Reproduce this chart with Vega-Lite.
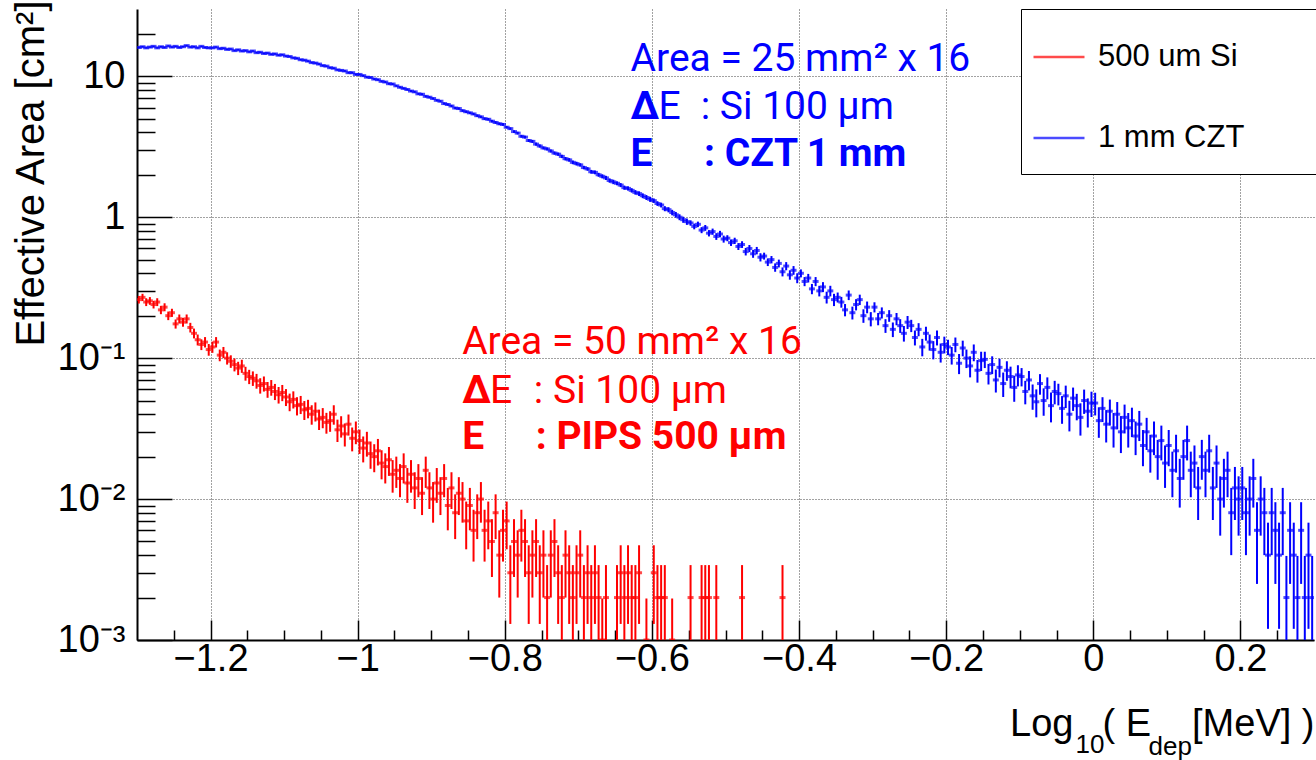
{
"$schema": "https://vega.github.io/schema/vega-lite/v6.json",
"width": 1177, "height": 631,
"autosize": {"type": "none"},
"padding": {"left": 137, "top": 9, "right": 2, "bottom": 120},
"background": "white",
"config": {
 "font": "Liberation Sans",
 "view": {"stroke": null},
 "axis": {"domainColor": "black", "domainWidth": 2, "tickColor": "black", "tickWidth": 1.5, "labelColor": "black", "titleColor": "black", "labelFont": "Liberation Sans", "titleFont": "Liberation Sans", "titleFontWeight": "normal", "gridColor": "#444", "gridDash": [1, 2], "gridWidth": 1, "labelFontSize": 38, "titleFontSize": 38}
},
"datasets": {
"czt": [
{"x":-1.2975,"y":16.0,"e":0.18},{"x":-1.2925,"y":16.2,"e":0.18},{"x":-1.2875,"y":15.9,"e":0.18},{"x":-1.2825,"y":16.1,"e":0.18},{"x":-1.2775,"y":16.3,"e":0.18},{"x":-1.2725,"y":15.9,"e":0.18},{"x":-1.2675,"y":16.2,"e":0.18},{"x":-1.2625,"y":16.0,"e":0.18},{"x":-1.2575,"y":16.4,"e":0.18},{"x":-1.2525,"y":16.1,"e":0.18},
{"x":-1.2475,"y":16.3,"e":0.18},{"x":-1.2425,"y":16.0,"e":0.18},{"x":-1.2375,"y":16.2,"e":0.18},{"x":-1.2325,"y":16.5,"e":0.18},{"x":-1.2275,"y":16.1,"e":0.18},{"x":-1.2225,"y":16.2,"e":0.18},{"x":-1.2175,"y":15.9,"e":0.18},{"x":-1.2125,"y":16.3,"e":0.18},{"x":-1.2075,"y":16.0,"e":0.18},{"x":-1.2025,"y":15.9,"e":0.18},
{"x":-1.1975,"y":15.9,"e":0.175},{"x":-1.1925,"y":16.1,"e":0.175},{"x":-1.1875,"y":15.7,"e":0.175},{"x":-1.1825,"y":15.8,"e":0.175},{"x":-1.1775,"y":15.5,"e":0.175},{"x":-1.1725,"y":15.6,"e":0.175},{"x":-1.1675,"y":15.2,"e":0.175},{"x":-1.1625,"y":15.4,"e":0.175},{"x":-1.1575,"y":15.1,"e":0.175},{"x":-1.1525,"y":15.2,"e":0.175},
{"x":-1.1475,"y":14.9,"e":0.17},{"x":-1.1425,"y":15.1,"e":0.17},{"x":-1.1375,"y":14.7,"e":0.17},{"x":-1.1325,"y":14.8,"e":0.17},{"x":-1.1275,"y":14.5,"e":0.17},{"x":-1.1225,"y":14.6,"e":0.17},{"x":-1.1175,"y":14.3,"e":0.17},{"x":-1.1125,"y":14.4,"e":0.17},{"x":-1.1075,"y":14.1,"e":0.17},{"x":-1.1025,"y":14.2,"e":0.17},
{"x":-1.0975,"y":13.9,"e":0.16},{"x":-1.0925,"y":13.8,"e":0.16},{"x":-1.0875,"y":13.5,"e":0.16},{"x":-1.0825,"y":13.4,"e":0.16},{"x":-1.0775,"y":13.1,"e":0.16},{"x":-1.0725,"y":13.0,"e":0.16},{"x":-1.0675,"y":12.8,"e":0.16},{"x":-1.0625,"y":12.5,"e":0.16},{"x":-1.0575,"y":12.4,"e":0.16},{"x":-1.0525,"y":12.2,"e":0.16},
{"x":-1.0475,"y":11.9,"e":0.15},{"x":-1.0425,"y":11.8,"e":0.15},{"x":-1.0375,"y":11.5,"e":0.15},{"x":-1.0325,"y":11.4,"e":0.15},{"x":-1.0275,"y":11.1,"e":0.15},{"x":-1.0225,"y":11.0,"e":0.15},{"x":-1.0175,"y":10.9,"e":0.15},{"x":-1.0125,"y":10.6,"e":0.15},{"x":-1.0075,"y":10.6,"e":0.15},{"x":-1.0025,"y":10.3,"e":0.15},
{"x":-0.9975,"y":10.3,"e":0.14},{"x":-0.9925,"y":10.1,"e":0.14},{"x":-0.9875,"y":9.85,"e":0.14},{"x":-0.9825,"y":9.8,"e":0.14},{"x":-0.9775,"y":9.55,"e":0.14},{"x":-0.9725,"y":9.45,"e":0.14},{"x":-0.9675,"y":9.2,"e":0.14},{"x":-0.9625,"y":9.1,"e":0.14},{"x":-0.9575,"y":8.85,"e":0.14},{"x":-0.9525,"y":8.8,"e":0.14},
{"x":-0.9475,"y":8.55,"e":0.125},{"x":-0.9425,"y":8.35,"e":0.125},{"x":-0.9375,"y":8.2,"e":0.125},{"x":-0.9325,"y":8.05,"e":0.125},{"x":-0.9275,"y":7.85,"e":0.125},{"x":-0.9225,"y":7.75,"e":0.125},{"x":-0.9175,"y":7.5,"e":0.125},{"x":-0.9125,"y":7.45,"e":0.125},{"x":-0.9075,"y":7.2,"e":0.125},{"x":-0.9025,"y":7.1,"e":0.125},
{"x":-0.8975,"y":6.95,"e":0.11},{"x":-0.8925,"y":6.75,"e":0.11},{"x":-0.8875,"y":6.65,"e":0.11},{"x":-0.8825,"y":6.4,"e":0.11},{"x":-0.8775,"y":6.3,"e":0.11},{"x":-0.8725,"y":6.15,"e":0.11},{"x":-0.8675,"y":5.95,"e":0.11},{"x":-0.8625,"y":5.9,"e":0.11},{"x":-0.8575,"y":5.7,"e":0.11},{"x":-0.8525,"y":5.6,"e":0.11},
{"x":-0.8475,"y":5.5,"e":0.1},{"x":-0.8425,"y":5.4,"e":0.1},{"x":-0.8375,"y":5.25,"e":0.1},{"x":-0.8325,"y":5.15,"e":0.1},{"x":-0.8275,"y":5.0,"e":0.1},{"x":-0.8225,"y":4.95,"e":0.1},{"x":-0.8175,"y":4.8,"e":0.1},{"x":-0.8125,"y":4.7,"e":0.1},{"x":-0.8075,"y":4.6,"e":0.1},{"x":-0.8025,"y":4.55,"e":0.1},
{"x":-0.7975,"y":4.35,"e":0.085},{"x":-0.7925,"y":4.25,"e":0.085},{"x":-0.7875,"y":4.05,"e":0.085},{"x":-0.7825,"y":3.95,"e":0.085},{"x":-0.7775,"y":3.75,"e":0.085},{"x":-0.7725,"y":3.7,"e":0.085},{"x":-0.7675,"y":3.5,"e":0.085},{"x":-0.7625,"y":3.45,"e":0.085},{"x":-0.7575,"y":3.3,"e":0.085},{"x":-0.7525,"y":3.2,"e":0.085},
{"x":-0.7475,"y":3.1,"e":0.075},{"x":-0.7425,"y":3.05,"e":0.075},{"x":-0.7375,"y":2.95,"e":0.075},{"x":-0.7325,"y":2.85,"e":0.075},{"x":-0.7275,"y":2.8,"e":0.075},{"x":-0.7225,"y":2.7,"e":0.075},{"x":-0.7175,"y":2.6,"e":0.075},{"x":-0.7125,"y":2.55,"e":0.075},{"x":-0.7075,"y":2.45,"e":0.075},{"x":-0.7025,"y":2.4,"e":0.075},
{"x":-0.6975,"y":2.35,"e":0.065},{"x":-0.6925,"y":2.25,"e":0.065},{"x":-0.6875,"y":2.2,"e":0.065},{"x":-0.6825,"y":2.1,"e":0.065},{"x":-0.6775,"y":2.08,"e":0.065},{"x":-0.6725,"y":2.0,"e":0.065},{"x":-0.6675,"y":1.95,"e":0.065},{"x":-0.6625,"y":1.9,"e":0.065},{"x":-0.6575,"y":1.82,"e":0.065},{"x":-0.6525,"y":1.78,"e":0.065},
{"x":-0.6475,"y":1.74,"e":0.056},{"x":-0.6425,"y":1.69,"e":0.056},{"x":-0.6375,"y":1.62,"e":0.056},{"x":-0.6325,"y":1.6,"e":0.056},{"x":-0.6275,"y":1.55,"e":0.056},{"x":-0.6225,"y":1.5,"e":0.056},{"x":-0.6175,"y":1.47,"e":0.056},{"x":-0.6125,"y":1.42,"e":0.056},{"x":-0.6075,"y":1.38,"e":0.056},{"x":-0.6025,"y":1.34,"e":0.056},
{"x":-0.5975,"y":1.31,"e":0.048},{"x":-0.5925,"y":1.25,"e":0.048},{"x":-0.5875,"y":1.22,"e":0.048},{"x":-0.5825,"y":1.15,"e":0.048},{"x":-0.5775,"y":1.13,"e":0.048},{"x":-0.5725,"y":1.08,"e":0.048},{"x":-0.5675,"y":1.04,"e":0.048},{"x":-0.5625,"y":1.0,"e":0.048},{"x":-0.5575,"y":0.96,"e":0.048},{"x":-0.5525,"y":0.93,"e":0.048},
{"x":-0.5475,"y":0.91,"e":0.04},{"x":-0.5425,"y":0.86,"e":0.04},{"x":-0.5375,"y":0.89,"e":0.04},{"x":-0.5325,"y":0.81,"e":0.04},{"x":-0.5275,"y":0.84,"e":0.04},{"x":-0.5225,"y":0.77,"e":0.04},{"x":-0.5175,"y":0.79,"e":0.04},{"x":-0.5125,"y":0.73,"e":0.04},{"x":-0.5075,"y":0.76,"e":0.04},{"x":-0.5025,"y":0.70,"e":0.04},
{"x":-0.4975,"y":0.71,"e":0.035},{"x":-0.4925,"y":0.66,"e":0.035},{"x":-0.4875,"y":0.68,"e":0.035},{"x":-0.4825,"y":0.62,"e":0.035},{"x":-0.4775,"y":0.64,"e":0.035},{"x":-0.4725,"y":0.57,"e":0.035},{"x":-0.4675,"y":0.60,"e":0.035},{"x":-0.4625,"y":0.55,"e":0.035},{"x":-0.4575,"y":0.58,"e":0.035},{"x":-0.4525,"y":0.52,"e":0.035},
{"x":-0.4475,"y":0.53,"e":0.03},{"x":-0.4425,"y":0.48,"e":0.03},{"x":-0.4375,"y":0.50,"e":0.03},{"x":-0.4325,"y":0.44,"e":0.03},{"x":-0.4275,"y":0.47,"e":0.03},{"x":-0.4225,"y":0.41,"e":0.03},{"x":-0.4175,"y":0.45,"e":0.03},{"x":-0.4125,"y":0.39,"e":0.03},{"x":-0.4075,"y":0.42,"e":0.03},{"x":-0.4025,"y":0.37,"e":0.03},
{"x":-0.3975,"y":0.40,"e":0.026},{"x":-0.3925,"y":0.35,"e":0.026},{"x":-0.3875,"y":0.37,"e":0.026},{"x":-0.3825,"y":0.31,"e":0.026},{"x":-0.3775,"y":0.35,"e":0.026},{"x":-0.3725,"y":0.30,"e":0.026},{"x":-0.3675,"y":0.32,"e":0.026},{"x":-0.3625,"y":0.27,"e":0.026},{"x":-0.3575,"y":0.30,"e":0.026},{"x":-0.3525,"y":0.26,"e":0.026},
{"x":-0.3475,"y":0.27,"e":0.022},{"x":-0.3425,"y":0.25,"e":0.022},{"x":-0.3375,"y":0.22,"e":0.022},{"x":-0.3325,"y":0.28,"e":0.022},{"x":-0.3275,"y":0.21,"e":0.022},{"x":-0.3225,"y":0.24,"e":0.022},{"x":-0.3175,"y":0.26,"e":0.022},{"x":-0.3125,"y":0.20,"e":0.022},{"x":-0.3075,"y":0.23,"e":0.022},{"x":-0.3025,"y":0.19,"e":0.022},
{"x":-0.2975,"y":0.23,"e":0.019},{"x":-0.2925,"y":0.19,"e":0.019},{"x":-0.2875,"y":0.21,"e":0.019},{"x":-0.2825,"y":0.17,"e":0.019},{"x":-0.2775,"y":0.20,"e":0.019},{"x":-0.2725,"y":0.16,"e":0.019},{"x":-0.2675,"y":0.19,"e":0.019},{"x":-0.2625,"y":0.17,"e":0.019},{"x":-0.2575,"y":0.15,"e":0.019},{"x":-0.2525,"y":0.18,"e":0.019},
{"x":-0.2475,"y":0.17,"e":0.017},{"x":-0.2425,"y":0.14,"e":0.017},{"x":-0.2375,"y":0.16,"e":0.017},{"x":-0.2325,"y":0.12,"e":0.017},{"x":-0.2275,"y":0.15,"e":0.017},{"x":-0.2225,"y":0.13,"e":0.017},{"x":-0.2175,"y":0.115,"e":0.017},{"x":-0.2125,"y":0.14,"e":0.017},{"x":-0.2075,"y":0.11,"e":0.017},{"x":-0.2025,"y":0.125,"e":0.017},
{"x":-0.1975,"y":0.12,"e":0.015},{"x":-0.1925,"y":0.105,"e":0.015},{"x":-0.1875,"y":0.125,"e":0.015},{"x":-0.1825,"y":0.092,"e":0.015},{"x":-0.1775,"y":0.118,"e":0.015},{"x":-0.1725,"y":0.1,"e":0.015},{"x":-0.1675,"y":0.088,"e":0.015},{"x":-0.1625,"y":0.11,"e":0.015},{"x":-0.1575,"y":0.082,"e":0.015},{"x":-0.1525,"y":0.096,"e":0.015},
{"x":-0.1475,"y":0.098,"e":0.013},{"x":-0.1425,"y":0.078,"e":0.013},{"x":-0.1375,"y":0.09,"e":0.013},{"x":-0.1325,"y":0.07,"e":0.013},{"x":-0.1275,"y":0.086,"e":0.013},{"x":-0.1225,"y":0.066,"e":0.013},{"x":-0.1175,"y":0.082,"e":0.013},{"x":-0.1125,"y":0.074,"e":0.013},{"x":-0.1075,"y":0.062,"e":0.013},{"x":-0.1025,"y":0.076,"e":0.013},
{"x":-0.0975,"y":0.074,"e":0.011},{"x":-0.0925,"y":0.058,"e":0.011},{"x":-0.0875,"y":0.07,"e":0.011},{"x":-0.0825,"y":0.054,"e":0.011},{"x":-0.0775,"y":0.049,"e":0.011},{"x":-0.0725,"y":0.066,"e":0.011},{"x":-0.0675,"y":0.05,"e":0.011},{"x":-0.0625,"y":0.062,"e":0.011},{"x":-0.0575,"y":0.046,"e":0.011},{"x":-0.0525,"y":0.058,"e":0.011},
{"x":-0.0475,"y":0.056,"e":0.0098},{"x":-0.0425,"y":0.044,"e":0.0098},{"x":-0.0375,"y":0.054,"e":0.0098},{"x":-0.0325,"y":0.040,"e":0.0098},{"x":-0.0275,"y":0.052,"e":0.0098},{"x":-0.0225,"y":0.046,"e":0.0098},{"x":-0.0175,"y":0.038,"e":0.0098},{"x":-0.0125,"y":0.05,"e":0.0098},{"x":-0.0075,"y":0.042,"e":0.0098},{"x":-0.0025,"y":0.048,"e":0.0098},
{"x":0.0025,"y":0.048,"e":0.0088},{"x":0.0075,"y":0.036,"e":0.0088},{"x":0.0125,"y":0.044,"e":0.0088},{"x":0.0175,"y":0.034,"e":0.0088},{"x":0.0225,"y":0.042,"e":0.0088},{"x":0.0275,"y":0.032,"e":0.0088},{"x":0.0325,"y":0.04,"e":0.0088},{"x":0.0375,"y":0.03,"e":0.0088},{"x":0.0425,"y":0.038,"e":0.0088},{"x":0.0475,"y":0.032,"e":0.0088},
{"x":0.0525,"y":0.036,"e":0.0085},{"x":0.0575,"y":0.028,"e":0.0075},{"x":0.0625,"y":0.034,"e":0.0082},{"x":0.0675,"y":0.024,"e":0.0069},{"x":0.0725,"y":0.03,"e":0.0077},{"x":0.0775,"y":0.022,"e":0.0066},{"x":0.0825,"y":0.028,"e":0.0075},{"x":0.0875,"y":0.02,"e":0.0063},{"x":0.0925,"y":0.026,"e":0.0072},{"x":0.0975,"y":0.018,"e":0.006},
{"x":0.1025,"y":0.024,"e":0.0069},{"x":0.1075,"y":0.016,"e":0.0057},{"x":0.1125,"y":0.022,"e":0.0066},{"x":0.1175,"y":0.014,"e":0.0053},{"x":0.1225,"y":0.02,"e":0.0063},{"x":0.1275,"y":0.026,"e":0.0072},{"x":0.1325,"y":0.016,"e":0.0057},{"x":0.1375,"y":0.018,"e":0.006},{"x":0.1425,"y":0.012,"e":0.0049},{"x":0.1475,"y":0.02,"e":0.0063},
{"x":0.1525,"y":0.016,"e":0.0057},{"x":0.1575,"y":0.022,"e":0.0066},{"x":0.1625,"y":0.012,"e":0.0049},{"x":0.1675,"y":0.018,"e":0.006},{"x":0.1725,"y":0.01,"e":0.0045},{"x":0.1775,"y":0.014,"e":0.0053},{"x":0.1825,"y":0.016,"e":0.0057},{"x":0.1875,"y":0.008,"e":0.004},{"x":0.1925,"y":0.012,"e":0.0049},{"x":0.1975,"y":0.01,"e":0.0045},
{"x":0.2025,"y":0.012,"e":0.0049},{"x":0.2075,"y":0.008,"e":0.004},{"x":0.2125,"y":0.01,"e":0.0045},{"x":0.2175,"y":0.014,"e":0.0053},{"x":0.2225,"y":0.006,"e":0.0035},{"x":0.2275,"y":0.01,"e":0.0045},{"x":0.2325,"y":0.008,"e":0.004},{"x":0.2375,"y":0.004,"e":0.0028},{"x":0.2425,"y":0.008,"e":0.004},{"x":0.2475,"y":0.006,"e":0.0035},
{"x":0.2525,"y":0.004,"e":0.0028},{"x":0.2575,"y":0.008,"e":0.004},{"x":0.2625,"y":0.002,"e":0.00195},{"x":0.2675,"y":0.006,"e":0.0035},{"x":0.2725,"y":0.004,"e":0.0028},{"x":0.2775,"y":0.002,"e":0.00195},{"x":0.2825,"y":0.006,"e":0.0035},{"x":0.2875,"y":0.002,"e":0.00195},{"x":0.2925,"y":0.004,"e":0.0028},{"x":0.2975,"y":0.002,"e":0.00195}
],
"si": [
{"x":-1.2975,"y":0.26,"e":0.016},{"x":-1.2925,"y":0.27,"e":0.016},{"x":-1.2875,"y":0.25,"e":0.016},{"x":-1.2825,"y":0.255,"e":0.016},
{"x":-1.2775,"y":0.24,"e":0.015},{"x":-1.2725,"y":0.25,"e":0.016},{"x":-1.2675,"y":0.22,"e":0.015},{"x":-1.2625,"y":0.23,"e":0.015},
{"x":-1.2575,"y":0.20,"e":0.014},{"x":-1.2525,"y":0.21,"e":0.014},{"x":-1.2475,"y":0.175,"e":0.013},{"x":-1.2425,"y":0.19,"e":0.014},
{"x":-1.2375,"y":0.18,"e":0.013},{"x":-1.2325,"y":0.19,"e":0.014},{"x":-1.2275,"y":0.165,"e":0.013},{"x":-1.2225,"y":0.15,"e":0.012},
{"x":-1.2175,"y":0.135,"e":0.012},{"x":-1.2125,"y":0.125,"e":0.011},{"x":-1.2075,"y":0.13,"e":0.011},{"x":-1.2025,"y":0.115,"e":0.011},
{"x":-1.1975,"y":0.12,"e":0.011},{"x":-1.1925,"y":0.13,"e":0.011},{"x":-1.1875,"y":0.105,"e":0.01},{"x":-1.1825,"y":0.11,"e":0.01},
{"x":-1.1775,"y":0.10,"e":0.01},{"x":-1.1725,"y":0.095,"e":0.0097},{"x":-1.1675,"y":0.09,"e":0.0095},{"x":-1.1625,"y":0.085,"e":0.0092},
{"x":-1.1575,"y":0.088,"e":0.0094},{"x":-1.1525,"y":0.078,"e":0.0088},{"x":-1.1475,"y":0.074,"e":0.0086},{"x":-1.1425,"y":0.072,"e":0.0085},
{"x":-1.1375,"y":0.069,"e":0.0083},{"x":-1.1325,"y":0.064,"e":0.008},{"x":-1.1275,"y":0.066,"e":0.0081},{"x":-1.1225,"y":0.06,"e":0.0077},
{"x":-1.1175,"y":0.062,"e":0.0079},{"x":-1.1125,"y":0.058,"e":0.0076},{"x":-1.1075,"y":0.055,"e":0.0074},{"x":-1.1025,"y":0.057,"e":0.0075},
{"x":-1.0975,"y":0.053,"e":0.0073},{"x":-1.0925,"y":0.049,"e":0.007},{"x":-1.0875,"y":0.051,"e":0.0071},{"x":-1.0825,"y":0.046,"e":0.0068},
{"x":-1.0775,"y":0.047,"e":0.0069},{"x":-1.0725,"y":0.043,"e":0.0066},{"x":-1.0675,"y":0.044,"e":0.0066},{"x":-1.0625,"y":0.04,"e":0.0063},
{"x":-1.0575,"y":0.042,"e":0.0065},{"x":-1.0525,"y":0.037,"e":0.0061},{"x":-1.0475,"y":0.038,"e":0.0062},{"x":-1.0425,"y":0.035,"e":0.0059},
{"x":-1.0375,"y":0.036,"e":0.006},{"x":-1.0325,"y":0.04,"e":0.0063},{"x":-1.0275,"y":0.031,"e":0.0056},{"x":-1.0225,"y":0.033,"e":0.0057},
{"x":-1.0175,"y":0.029,"e":0.0054},{"x":-1.0125,"y":0.034,"e":0.0058},{"x":-1.0075,"y":0.027,"e":0.0052},{"x":-1.0025,"y":0.03,"e":0.0055},
{"x":-0.9975,"y":0.026,"e":0.0051},{"x":-0.9925,"y":0.023,"e":0.0048},{"x":-0.9875,"y":0.025,"e":0.005},{"x":-0.9825,"y":0.021,"e":0.0046},
{"x":-0.9775,"y":0.02,"e":0.0045},{"x":-0.9725,"y":0.022,"e":0.0047},{"x":-0.9675,"y":0.018,"e":0.0042},{"x":-0.9625,"y":0.017,"e":0.0041},
{"x":-0.9575,"y":0.019,"e":0.0044},{"x":-0.9525,"y":0.015,"e":0.0039},{"x":-0.9475,"y":0.016,"e":0.004},{"x":-0.9425,"y":0.014,"e":0.0037},
{"x":-0.9375,"y":0.017,"e":0.0041},{"x":-0.9325,"y":0.013,"e":0.0036},{"x":-0.9275,"y":0.015,"e":0.0039},{"x":-0.9225,"y":0.012,"e":0.0035},
{"x":-0.9175,"y":0.014,"e":0.0037},{"x":-0.9125,"y":0.011,"e":0.0033},{"x":-0.9075,"y":0.016,"e":0.004},{"x":-0.9025,"y":0.012,"e":0.0035},
{"x":-0.8975,"y":0.01,"e":0.0032},{"x":-0.8925,"y":0.013,"e":0.0036},{"x":-0.8875,"y":0.011,"e":0.0033},{"x":-0.8825,"y":0.014,"e":0.0037},
{"x":-0.8775,"y":0.009,"e":0.003},{"x":-0.8725,"y":0.012,"e":0.0035},{"x":-0.8675,"y":0.008,"e":0.0028},{"x":-0.8625,"y":0.011,"e":0.0033},
{"x":-0.8575,"y":0.01,"e":0.0032},{"x":-0.8525,"y":0.007,"e":0.0026},{"x":-0.8475,"y":0.009,"e":0.003},{"x":-0.8425,"y":0.006,"e":0.0024},
{"x":-0.8375,"y":0.008,"e":0.0028},{"x":-0.8325,"y":0.01,"e":0.0032},{"x":-0.8275,"y":0.006,"e":0.0024},{"x":-0.8225,"y":0.007,"e":0.0026},
{"x":-0.8175,"y":0.005,"e":0.0022},{"x":-0.8125,"y":0.008,"e":0.0028},{"x":-0.8075,"y":0.004,"e":0.002},{"x":-0.8025,"y":0.006,"e":0.0024},
{"x":-0.7975,"y":0.007,"e":0.0026},{"x":-0.7925,"y":0.003,"e":0.0017},{"x":-0.7875,"y":0.005,"e":0.0022},{"x":-0.7825,"y":0.004,"e":0.002},
{"x":-0.7775,"y":0.006,"e":0.0024},{"x":-0.7725,"y":0.005,"e":0.0022},{"x":-0.7675,"y":0.003,"e":0.0017},{"x":-0.7625,"y":0.004,"e":0.002},
{"x":-0.7575,"y":0.005,"e":0.0022},{"x":-0.7525,"y":0.003,"e":0.0017},{"x":-0.7475,"y":0.004,"e":0.002},{"x":-0.7425,"y":0.002,"e":0.0014},
{"x":-0.7375,"y":0.004,"e":0.002},{"x":-0.7325,"y":0.005,"e":0.0022},{"x":-0.7275,"y":0.003,"e":0.0017},{"x":-0.7225,"y":0.002,"e":0.0014},
{"x":-0.7175,"y":0.004,"e":0.002},{"x":-0.7125,"y":0.003,"e":0.0017},{"x":-0.7075,"y":0.002,"e":0.0014},{"x":-0.7025,"y":0.003,"e":0.0017},
{"x":-0.6975,"y":0.004,"e":0.002},{"x":-0.6925,"y":0.002,"e":0.0014},{"x":-0.6875,"y":0.003,"e":0.0017},{"x":-0.6825,"y":0.002,"e":0.0014},
{"x":-0.6775,"y":0.003,"e":0.0017},{"x":-0.6725,"y":0.002,"e":0.0014},{"x":-0.6675,"y":0.001,"e":0.00097},{"x":-0.6625,"y":0.002,"e":0.0014},
{"x":-0.6475,"y":0.002,"e":0.0014},{"x":-0.6425,"y":0.003,"e":0.0017},{"x":-0.6375,"y":0.002,"e":0.0014},{"x":-0.6325,"y":0.003,"e":0.0017},
{"x":-0.6275,"y":0.002,"e":0.0014},{"x":-0.6225,"y":0.002,"e":0.0014},{"x":-0.6175,"y":0.003,"e":0.0017},{"x":-0.6075,"y":0.001,"e":0.00097},
{"x":-0.5975,"y":0.003,"e":0.0017},{"x":-0.5925,"y":0.002,"e":0.0014},{"x":-0.5875,"y":0.002,"e":0.0014},{"x":-0.5825,"y":0.002,"e":0.0014},
{"x":-0.5725,"y":0.001,"e":0.00097},{"x":-0.5475,"y":0.002,"e":0.0014},{"x":-0.5325,"y":0.002,"e":0.0014},{"x":-0.5275,"y":0.002,"e":0.0014},
{"x":-0.5225,"y":0.002,"e":0.0014},{"x":-0.5125,"y":0.002,"e":0.0014},{"x":-0.4775,"y":0.002,"e":0.0014},{"x":-0.4225,"y":0.002,"e":0.0014}
],
"notes": [
{"s":"1 mm CZT","t":"Area = 25 mm² x 16","x":-0.629,"y":10.85},
{"s":"1 mm CZT","t":"E","x":-0.591,"y":4.96},
{"s":"1 mm CZT","t":": Si 100 µm","x":-0.5337,"y":4.96},
{"s":"500 um Si","t":"Area = 50 mm² x 16","x":-0.858,"y":0.1064},
{"s":"500 um Si","t":"E","x":-0.820,"y":0.0483},
{"s":"500 um Si","t":": Si 100 µm","x":-0.7605,"y":0.0483}
],
"bold": [
{"s":"1 mm CZT","t":"Δ","x":-0.629,"y":4.96},
{"s":"1 mm CZT","t":"E","x":-0.629,"y":2.30},
{"s":"1 mm CZT","t":": CZT 1 mm","x":-0.5292,"y":2.30},
{"s":"500 um Si","t":"Δ","x":-0.858,"y":0.0483},
{"s":"500 um Si","t":"E","x":-0.858,"y":0.02254},
{"s":"500 um Si","t":": PIPS 500 µm","x":-0.758,"y":0.02254}
]
},
"layer": [
{
 "data": {"name": "czt"},
 "mark": {"type": "errorbar", "rule": {"strokeWidth": 2}, "clip": true},
 "encoding": {
  "x": {"field": "x", "type": "quantitative", "scale": {"domain": [-1.3, 0.3], "nice": false, "zero": false},
   "axis": {"orient": "bottom", "values": [-1.2, -1, -0.8, -0.6, -0.4, -0.2, 0, 0.2], "format": "~g", "tickSize": -20, "labelPadding": 20, "grid": true, "labelFlush": false, "labelOverlap": false,
    "title": "Log", "titleX": 936, "titleY": 95, "titleAlign": "right", "titleBaseline": "alphabetic"}},
  "y": {"field": "y", "type": "quantitative", "scale": {"type": "log", "domain": [0.001, 30], "clamp": true, "nice": false},
   "axis": {"orient": "left", "values": [0.001, 0.01, 0.1, 1, 10], "tickSize": -35, "labelPadding": 47, "grid": true, "labelOverlap": false,
    "labelExpr": "datum.value >= 5 ? '10' : datum.value >= 0.5 ? '1' : datum.value >= 0.05 ? '10⁻¹' : datum.value >= 0.005 ? '10⁻²' : '10⁻³'",
    "title": "Effective Area [cm²]", "titleFontSize": 40, "titleAngle": 270, "titleX": -94, "titleY": -9, "titleAlign": "right", "titleBaseline": "alphabetic"}},
  "yError": {"field": "e"},
  "color": {"datum": "1 mm CZT", "type": "nominal",
   "scale": {"domain": ["500 um Si", "1 mm CZT"], "range": ["#ff0000", "#0000ff"]},
   "legend": {"orient": "none", "legendX": 884, "legendY": 0, "title": "I", "titleColor": "white", "titleOrient": "right", "titlePadding": 50, "titleFontSize": 8,
    "symbolType": "stroke", "symbolSize": 2600, "symbolStrokeWidth": 2.5, "symbolOpacity": 1, "symbolOffset": -10,
    "labelFont": "Liberation Sans", "labelFontSize": 31, "labelColor": "black", "labelOffset": 12, "labelLimit": 500,
    "fillColor": "white", "strokeColor": "black", "padding": 21, "rowPadding": 39}}
 }
},
{
 "data": {"name": "czt"},
 "mark": {"type": "tick", "orient": "horizontal", "size": 6, "thickness": 3, "clip": true},
 "encoding": {
  "x": {"field": "x", "type": "quantitative", "scale": {"domain": [-1.3, 0.3], "nice": false, "zero": false},
   "axis": {"orient": "bottom", "values": [-1.25, -1.15, -1.1, -1.05, -0.95, -0.9, -0.85, -0.75, -0.7, -0.65, -0.55, -0.5, -0.45, -0.35, -0.3, -0.25, -0.15, -0.1, -0.05, 0.05, 0.1, 0.15, 0.25],
    "tickSize": -10, "labels": false, "domain": false, "grid": false,
    "title": "dep", "titleFontSize": 26, "titleX": 1011, "titleY": 114, "titleAlign": "left", "titleBaseline": "alphabetic"}},
  "y": {"field": "y", "type": "quantitative", "scale": {"type": "log", "domain": [0.001, 30], "clamp": true, "nice": false},
   "axis": {"orient": "left", "values": [0.002, 0.003, 0.004, 0.005, 0.006, 0.007, 0.008, 0.009, 0.02, 0.03, 0.04, 0.05, 0.06, 0.07, 0.08, 0.09, 0.2, 0.3, 0.4, 0.5, 0.6, 0.7, 0.8, 0.9, 2, 3, 4, 5, 6, 7, 8, 9, 20],
    "tickSize": -18, "labels": false, "domain": false, "grid": false, "title": null}},
  "color": {"datum": "1 mm CZT", "type": "nominal"}
 }
},
{
 "data": {"name": "si"},
 "mark": {"type": "errorbar", "rule": {"strokeWidth": 2}, "clip": true},
 "encoding": {
  "x": {"field": "x", "type": "quantitative", "scale": {"domain": [-1.3, 0.3], "nice": false, "zero": false},
   "axis": {"orient": "bottom", "domain": false, "ticks": false, "labels": false, "grid": false,
    "title": "10", "titleFontSize": 26, "titleX": 938, "titleY": 112, "titleAlign": "left", "titleBaseline": "alphabetic"}},
  "y": {"field": "y", "type": "quantitative", "scale": {"type": "log", "domain": [0.001, 30], "clamp": true, "nice": false}, "axis": null},
  "yError": {"field": "e"},
  "color": {"datum": "500 um Si", "type": "nominal"}
 }
},
{
 "data": {"name": "si"},
 "mark": {"type": "tick", "orient": "horizontal", "size": 6, "thickness": 3, "clip": true},
 "encoding": {
  "x": {"field": "x", "type": "quantitative", "scale": {"domain": [-1.3, 0.3], "nice": false, "zero": false},
   "axis": {"orient": "bottom", "domain": false, "ticks": false, "labels": false, "grid": false,
    "title": "( E", "titleX": 965, "titleY": 95, "titleAlign": "left", "titleBaseline": "alphabetic"}},
  "y": {"field": "y", "type": "quantitative", "scale": {"type": "log", "domain": [0.001, 30], "clamp": true, "nice": false}, "axis": null},
  "color": {"datum": "500 um Si", "type": "nominal"}
 }
},
{
 "data": {"name": "notes"},
 "mark": {"type": "text", "font": "Roboto", "fontSize": 39, "align": "left", "baseline": "alphabetic"},
 "encoding": {
  "x": {"field": "x", "type": "quantitative", "scale": {"domain": [-1.3, 0.3], "nice": false, "zero": false},
   "axis": {"orient": "bottom", "domain": false, "ticks": false, "labels": false, "grid": false,
    "title": "[MeV] )", "titleX": 1177, "titleY": 95, "titleAlign": "right", "titleBaseline": "alphabetic"}},
  "y": {"field": "y", "type": "quantitative", "scale": {"type": "log", "domain": [0.001, 30], "clamp": true, "nice": false}, "axis": null},
  "text": {"field": "t"},
  "color": {"field": "s", "type": "nominal", "legend": null}
 }
},
{
 "data": {"name": "bold"},
 "mark": {"type": "text", "font": "Roboto", "fontSize": 39, "fontWeight": "bold", "align": "left", "baseline": "alphabetic"},
 "encoding": {
  "x": {"field": "x", "type": "quantitative", "scale": {"domain": [-1.3, 0.3], "nice": false, "zero": false}, "axis": null},
  "y": {"field": "y", "type": "quantitative", "scale": {"type": "log", "domain": [0.001, 30], "clamp": true, "nice": false}, "axis": null},
  "text": {"field": "t"},
  "color": {"field": "s", "type": "nominal", "legend": null}
 }
}
],
"resolve": {"axis": {"x": "independent", "y": "independent"}}
}
